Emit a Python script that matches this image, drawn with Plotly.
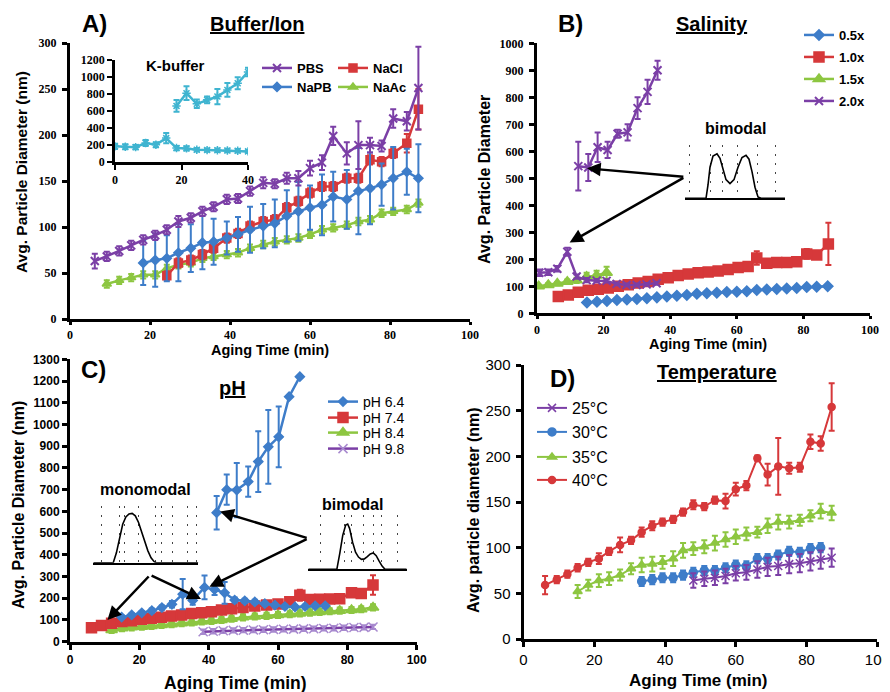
import plotly.graph_objects as go

W, H = 890, 692
OX, OY = 8, 8   # page body offset of the plot inside the browser window

# ---------------- Panel A: Buffer/Ion ----------------
tA = [6.2, 9.2, 12.3, 15.3, 18.3, 21.3, 24.2, 27.1, 30.2, 33.1, 35.9, 39.2, 42.0, 45.0,
      48.3, 51.2, 54.2, 57.1, 60.0, 63.0, 65.8, 69.2, 72.1, 75.0, 77.9, 80.8, 84.2, 87.1]
pbs = [63, 68, 74, 80, 86, 91, 97, 106, 110, 117, 122, 130, 131, 139, 148, 147, 153, 153,
       164, 170, 199, 180, 189, 189, 188, 218, 215, 251]
pbs_err = [8, 5, 5, 5, 5, 5, 5, 6, 5, 5, 5, 5, 5, 5, 6, 5, 6, 8, 8, 8, 10, 12, 26, 8, 6, 10, 10, 45]
t_nacl = tA[6:]
nacl = [47, 61, 64, 70, 77, 88, 93, 101, 106, 108, 121, 128, 137, 144, 144, 153, 153, 173,
        171, 180, 191, 228]
nacl_err = [5] * 20 + [10, 22]
t_napb = tA[4:]
napb = [61, 64, 66, 72, 77, 83, 84, 88, 92, 97, 101, 104, 112, 117, 121, 124, 133, 130, 139,
        142, 146, 153, 160, 153]
napb_err = [24, 29, 25, 31, 26, 29, 25, 18, 19, 25, 24, 26, 28, 32, 24, 33, 27, 32, 47, 39,
            23, 34, 25, 37]
t_naac = tA[1:]
naac = [38, 42, 45, 48, 48, 55, 59, 61, 66, 68, 70, 72, 77, 81, 84, 86, 88, 92, 97, 99, 102,
        106, 108, 115, 117, 119, 126]
naac_err = [4] * 27

# inset: K-buffer
tK_low = [0, 3.1, 6.2, 9.2, 12.3, 15.4, 18.5, 21.5, 24.6, 27.7, 30.8, 33.8, 36.9, 40.0]
k_low = [184, 180, 175, 223, 203, 281, 164, 160, 145, 140, 138, 135, 132, 125]
k_low_err = [30, 30, 25, 35, 30, 60, 25, 25, 20, 20, 20, 20, 20, 20]
tK_high = [18.5, 21.5, 24.6, 27.7, 30.8, 33.8, 36.9, 40.0]
k_high = [660, 810, 684, 731, 770, 848, 926, 1060]
k_high_err = [70, 80, 50, 40, 90, 80, 70, 50]

# ---------------- Panel B: Salinity ----------------
t05 = [15, 18, 21, 24, 27, 30, 33, 36, 39, 42, 45, 48, 51, 54, 57, 60, 63, 66, 69, 72, 75,
       78, 81, 84, 87.3]
s05 = [40, 43, 46, 49, 51, 53, 56, 59, 62, 65, 68, 72, 74, 76, 79, 80, 82, 86, 88, 90, 92,
       94, 97, 98, 100]
s05_err = [3] * 25
t10 = [6.4, 9.4, 12.4, 15.4, 18.4, 21.4, 24.4, 27.4, 30.4, 33.4, 36.4, 39.4, 42.4, 45.4,
       48.4, 51.4, 54.4, 57.4, 60.4, 63.4, 66.0, 69.0, 72.0, 75.0, 78.0, 81.0, 84.0, 87.5]
s10 = [62, 68, 78, 85, 89, 94, 100, 106, 112, 118, 126, 132, 140, 146, 150, 153, 157, 162,
       170, 173, 205, 185, 188, 188, 191, 220, 216, 257]
s10_err = [5] * 20 + [25, 6, 5, 5, 5, 18, 8, 78]
t15 = [0.5, 3.4, 6.1, 9.1, 11.9, 14.9, 17.9, 20.9]
s15 = [100, 105, 110, 117, 122, 135, 140, 150]
s15_err = [6, 6, 6, 8, 10, 15, 18, 22]
t20_low = [0.7, 3.4, 6.1, 9.1, 11.9, 14.9, 17.9, 20.9, 23.9, 26.9, 29.9, 32.9, 35.9]
s20_low = [150, 152, 165, 228, 136, 123, 121, 120, 109, 105, 105, 107, 111]
s20_low_err = [12, 10, 10, 15, 8, 8, 6, 6, 5, 5, 5, 5, 5]
t20_high = [12.4, 15.4, 18.2, 21.2, 24.2, 27.2, 30.2, 33.2, 36.2]
s20_high = [545, 540, 615, 605, 665, 670, 760, 820, 900]
s20_high_err = [90, 50, 55, 30, 15, 30, 40, 45, 35]

# ---------------- Panel C: pH ----------------
t74 = [6.2, 9.1, 12.0, 15.0, 17.8, 20.7, 23.5, 26.4, 29.3, 32.2, 35.1, 38.0, 40.8, 43.7,
       46.6, 49.9, 53.3, 56.7, 60.0, 63.4, 66.3, 69.2, 72.0, 74.9, 77.8, 81.2, 84.0, 87.4]
p74 = [64, 74, 85, 93, 97, 103, 108, 112, 118, 123, 130, 133, 138, 146, 152, 158, 164, 169,
       173, 184, 214, 194, 195, 196, 198, 225, 222, 261]
p74_err = [14] * 20 + [25] + [14] * 6 + [45]
t84 = t74[2:]
p84 = [54, 62, 66, 69, 72, 77, 80, 85, 88, 93, 96, 100, 106, 112, 116, 119, 123, 126, 130,
       134, 137, 140, 143, 146, 149, 158]
p84_err = [14] * 26
t98 = [38.4, 41.3, 44.2, 47.1, 50.0, 52.9, 55.8, 58.7, 61.6, 64.5, 67.4, 70.3, 73.2, 76.1,
       79.0, 81.9, 84.8, 87.4]
p98 = [46, 48, 50, 52, 53, 54, 55, 56, 57, 58, 59, 60, 61, 62, 64, 65, 66, 68]
p98_err = [10] * 18
t64_low = [14.9, 17.8, 20.7, 23.6, 26.5, 29.4, 32.5, 35.4, 38.8, 41.7, 44.6, 47.5, 50.4,
           53.3, 56.2, 59.1, 62.0, 64.9, 67.8, 70.7, 73.6]
p64_low = [113, 123, 133, 143, 157, 172, 219, 190, 250, 240, 225, 192, 188, 183, 175, 168,
           162, 160, 162, 165, 165]
p64_low_err = [8, 8, 8, 10, 10, 15, 70, 20, 55, 25, 50, 12, 10, 10, 8, 8, 8, 8, 8, 8, 8]
t64_high = [42.3, 45.2, 48.1, 51.4, 54.3, 57.2, 60.2, 63.2, 66.3]
p64_high = [594, 700, 698, 737, 829, 897, 943, 1128, 1220]
p64_high_err = [77, 70, 125, 70, 140, 170, 140, 0, 0]

# ---------------- Panel D: Temperature ----------------
t40 = [6.1, 9.4, 12.4, 15.3, 18.3, 21.3, 24.2, 27.3, 30.4, 33.4, 36.4, 39.3, 42.3, 45.1,
       48.0, 51.1, 54.1, 57.1, 60.0, 63.0, 66.1, 69.0, 72.0, 75.1, 78.1, 81.1, 84.0, 87.1]
d40 = [59, 65, 71, 78, 84, 88, 96, 103, 108, 117, 124, 128, 131, 139, 147, 145, 152, 151,
       164, 168, 198, 180, 189, 187, 188, 216, 214, 254]
d40_err = [10, 4, 4, 4, 4, 6, 4, 8, 4, 5, 5, 4, 4, 4, 5, 4, 4, 8, 7, 5, 3, 12, 31, 6, 5, 8, 8, 26]
t35 = t40[3:]
d35 = [52, 59, 64, 66, 70, 77, 81, 82, 84, 88, 97, 99, 101, 105, 109, 112, 115, 117, 124,
       128, 128, 130, 135, 140, 138]
d35_err = [7, 6, 7, 7, 6, 6, 8, 8, 7, 8, 8, 7, 7, 8, 8, 8, 7, 6, 8, 8, 7, 6, 6, 8, 8]
t30 = t40[9:27]
d30 = [63, 65, 67, 67, 70, 73, 75, 75, 78, 81, 80, 88, 88, 92, 96, 95, 99, 100]
d30_err = [5] * 18
t25 = t40[14:]
d25 = [64, 66, 67, 69, 72, 73, 76, 79, 80, 82, 83, 85, 87, 89]
d25_err = [8, 8, 8, 8, 8, 8, 9, 10, 10, 10, 10, 10, 10, 10]

# ---------------- size-distribution sketches ----------------
skB_x = [0, 21, 23, 25, 28, 32, 35, 38, 41, 45, 49, 53, 57, 61, 64, 67, 70, 73, 76, 100]
skB_y = [0, 0, 0.3, 0.7, 0.95, 1.0, 0.9, 0.65, 0.42, 0.33, 0.42, 0.7, 0.92, 0.97, 0.88, 0.6,
         0.25, 0.03, 0, 0]
skM_x = [0, 19, 22, 25, 28, 31, 34, 37, 40, 43, 46, 49, 52, 55, 58, 60, 100]
skM_y = [0, 0, 0.2, 0.5, 0.78, 0.93, 0.99, 1.0, 0.95, 0.82, 0.62, 0.42, 0.24, 0.1, 0.02, 0, 0]
skC_x = [0, 29, 32, 35, 38, 40, 42, 45, 48, 51, 54, 57, 60, 63, 66, 69, 72, 75, 78, 100]
skC_y = [0, 0, 0.35, 0.75, 0.98, 1.0, 0.9, 0.6, 0.38, 0.27, 0.22, 0.23, 0.28, 0.34, 0.36,
         0.3, 0.18, 0.07, 0, 0]

BLUE, RED, GREEN, PURPLE, CYAN = "#3E7DC9", "#D6383A", "#8DC641", "#7B3FA6", "#3FB4D0"
LAVENDER = "#A88ACF"
SANS, SERIF = "Liberation Sans", "Liberation Serif"


def fx(px):
    return (px - OX) / W


def fy(py):
    return 1 - (py - OY) / H


def px_x(a, b):
    return [fx(a), fx(b)]


def px_y(top, bottom):
    return [fy(bottom), fy(top)]


fig = go.Figure()
lay = {}
legend_count = [0]


def new_legend(text_left, row_y, size, bold):
    legend_count[0] += 1
    n = legend_count[0]
    lid = "legend" if n == 1 else "legend%d" % n
    f = dict(family=SANS, size=size, color="black")
    if bold:
        f["weight"] = "bold"
    lay[lid] = dict(x=fx(text_left - 40), y=fy(row_y), xanchor="left", yanchor="middle",
                    font=f, bgcolor="rgba(0,0,0,0)", borderwidth=0, itemwidth=30)
    return lid


def add(x, y, err, color, symbol, size, xa, ya, name=None, leg=None, lw=2.5, group=None,
        mlw=1.5, mcolor=None):
    show = leg is not None
    mc = mcolor or color
    fig.add_trace(go.Scatter(
        x=x, y=y, mode="lines+markers", name=name, showlegend=show,
        legend=leg if show else "legend", legendgroup=group,
        line=dict(color=color, width=lw),
        marker=dict(symbol=symbol, size=size, color=mc, line=dict(color=mc, width=mlw)),
        error_y=dict(type="data", array=err, color=mc, thickness=2, width=3, visible=True),
        xaxis=xa, yaxis=ya))


# A
add(t_naac, naac, naac_err, GREEN, "triangle-up", 8, "x", "y", "NaAc",
    new_legend(373, 87, 13, True))
add(t_nacl, nacl, nacl_err, RED, "square", 8, "x", "y", "NaCl",
    new_legend(373, 68, 13, True))
add(t_napb, napb, napb_err, BLUE, "diamond", 7, "x", "y", "NaPB",
    new_legend(297, 87, 13, True))
add(tA, pbs, pbs_err, PURPLE, "x-thin", 8, "x", "y", "PBS",
    new_legend(297, 68, 13, True), mlw=2)
# A inset
add(tK_low, k_low, k_low_err, CYAN, "asterisk", 7, "x2", "y2")
add(tK_high, k_high, k_high_err, CYAN, "asterisk", 7, "x2", "y2")

# B
add(t15, s15, s15_err, GREEN, "triangle-up", 10, "x3", "y3", "1.5x",
    new_legend(839, 79, 13, True))
add(t10, s10, s10_err, RED, "square", 10, "x3", "y3", "1.0x",
    new_legend(839, 57, 13, True))
add(t05, s05, s05_err, BLUE, "diamond", 8, "x3", "y3", "0.5x",
    new_legend(839, 35, 13, True))
add(t20_low, s20_low, s20_low_err, PURPLE, "x-thin", 8, "x3", "y3", "2.0x",
    new_legend(839, 101, 13, True), group="b4", mlw=2)
add(t20_high, s20_high, s20_high_err, PURPLE, "x-thin", 8, "x3", "y3", "2.0x", None,
    group="b4", mlw=2)

# C
add(t98, p98, p98_err, PURPLE, "x-thin", 9, "x4", "y4", "pH 9.8",
    new_legend(363, 449, 14, False), mlw=1.5, mcolor=LAVENDER)
add(t84, p84, p84_err, GREEN, "triangle-up", 10, "x4", "y4", "pH 8.4",
    new_legend(363, 433, 14, False))
add(t74, p74, p74_err, RED, "square", 10, "x4", "y4", "pH 7.4",
    new_legend(363, 418, 14, False))
add(t64_low, p64_low, p64_low_err, BLUE, "diamond", 7, "x4", "y4", "pH 6.4",
    new_legend(363, 402, 14, False), group="c1")
add(t64_high, p64_high, p64_high_err, BLUE, "diamond", 7, "x4", "y4", "pH 6.4", None,
    group="c1")

# D
add(t35, d35, d35_err, GREEN, "triangle-up", 8, "x5", "y5", "35°C",
    new_legend(572, 457, 16, False), lw=2)
add(t30, d30, d30_err, BLUE, "circle", 8, "x5", "y5", "30°C",
    new_legend(572, 432, 16, False), lw=2)
add(t25, d25, d25_err, PURPLE, "x-thin", 8, "x5", "y5", "25°C",
    new_legend(572, 408, 16, False), lw=2, mlw=1.5)
add(t40, d40, d40_err, RED, "circle", 7, "x5", "y5", "40°C",
    new_legend(572, 480, 16, False), lw=2)

# sketches
for sx, sy, xa, ya in [(skB_x, skB_y, "x6", "y6"), (skM_x, skM_y, "x7", "y7"),
                       (skC_x, skC_y, "x8", "y8")]:
    fig.add_trace(go.Scatter(x=sx, y=sy, mode="lines", line=dict(color="black", width=1.6),
                             xaxis=xa, yaxis=ya, showlegend=False, hoverinfo="skip"))


def main_axis(domain, rng, dtick, font, anchor, lw=3, tw=2.5, standoff=None, tl=5):
    d = dict(domain=domain, range=rng, dtick=dtick, tick0=0, showline=True, linecolor="black",
             linewidth=lw, ticks="outside", tickwidth=tw, ticklen=tl, tickcolor="black",
             showgrid=False, zeroline=False, tickfont=font, anchor=anchor, fixedrange=True,
             automargin=False)
    if standoff is not None:
        d["ticklabelstandoff"] = standoff
    return d


def cross_axis(domain, rng, dtick, anchor, overlay, tw=2.5):
    return dict(domain=domain, range=rng, dtick=dtick, tick0=0, showline=False,
                ticks="inside", tickwidth=tw, ticklen=5, tickcolor="black",
                showticklabels=False, showgrid=False, zeroline=False, anchor=anchor,
                overlaying=overlay, fixedrange=True, automargin=False)


fA = dict(family=SERIF, size=12, color="black", weight="bold")
fC = dict(family=SANS, size=12, color="black", weight="bold")
fD = dict(family=SANS, size=15, color="black")

dom = {
    "A": (px_x(70, 470), px_y(43, 319)),
    "Ai": (px_x(115, 248), px_y(60, 162)),
    "B": (px_x(537, 870), px_y(43.3, 313.3)),
    "C": (px_x(70, 416.7), px_y(359.3, 641.7)),
    "D": (px_x(523.5, 877.3), px_y(365, 639)),
}

lay["xaxis"] = main_axis(dom["A"][0], [0, 100], 20, fA, "y", tl=3)
lay["yaxis"] = main_axis(dom["A"][1], [0, 300], 50, fA, "x", standoff=3)
lay["xaxis2"] = main_axis(dom["Ai"][0], [0, 40], 20, fA, "y2", lw=2.5, tw=2)
lay["yaxis2"] = main_axis(dom["Ai"][1], [0, 1200], 200, fA, "x2", lw=2.5, tw=2)
lay["xaxis3"] = main_axis(dom["B"][0], [0, 100], 20, fA, "y3", tl=3)
lay["yaxis3"] = main_axis(dom["B"][1], [0, 1000], 100, fA, "x3", standoff=3)
lay["xaxis4"] = main_axis(dom["C"][0], [0, 100], 20, fC, "y4")
lay["yaxis4"] = main_axis(dom["C"][1], [0, 1300], 100, fC, "x4")
lay["xaxis5"] = main_axis(dom["D"][0], [0, 100], 20, fD, "y5")
lay["yaxis5"] = main_axis(dom["D"][1], [0, 300], 50, fD, "x5", standoff=2)

# inner halves of the crossing tick marks
cross = [("A", "x", "y", 20, 50, [0, 100], [0, 300], 9),
         ("Ai", "x2", "y2", 20, 200, [0, 40], [0, 1200], 10),
         ("B", "x3", "y3", 20, 100, [0, 100], [0, 1000], 11),
         ("C", "x4", "y4", 20, 100, [0, 100], [0, 1300], 12),
         ("D", "x5", "y5", 20, 50, [0, 100], [0, 300], 13)]
for key, xa, ya, dx, dy, rx, ry, n in cross:
    lay["xaxis%d" % n] = cross_axis(dom[key][0], rx, dx, ya, xa)
    lay["yaxis%d" % n] = cross_axis(dom[key][1], ry, dy, xa, ya)


def sketch_axes(xd, yd, grid, xname, yname, ymax):
    xax = dict(domain=xd, range=[0, 100], showline=True, linecolor="black", linewidth=1.5,
               ticks="", showticklabels=False, zeroline=False, anchor=yname, fixedrange=True,
               tickvals=grid, showgrid=True, gridcolor="#444", gridwidth=1,
               griddash="2px,7px", automargin=False)
    yax = dict(domain=yd, range=[0, ymax], showline=False, ticks="", showticklabels=False,
               showgrid=False, zeroline=False, anchor=xname, fixedrange=True, automargin=False)
    return xax, yax


gridB = [4, 25, 37, 52, 72, 90]
gridM = [8, 25, 30, 43, 59, 65, 75, 90, 98]
gridC = [12, 37, 44, 56, 66, 74, 91]
lay["xaxis6"], lay["yaxis6"] = sketch_axes(px_x(685, 785), px_y(145, 198.3), gridB, "x6", "y6", 1.2)
lay["xaxis7"], lay["yaxis7"] = sketch_axes(px_x(93.3, 198.3), px_y(506, 562.7), gridM, "x7", "y7", 1.15)
lay["xaxis8"], lay["yaxis8"] = sketch_axes(px_x(308.3, 406.7), px_y(515, 569.3), gridC, "x8", "y8", 1.2)

ann = []


def text(x, y, s, size, bold=True, angle=0, family=SANS):
    f = dict(family=family, size=size, color="black")
    if bold:
        f["weight"] = "bold"
    ann.append(dict(x=fx(x), y=fy(y), xref="paper", yref="paper", text=s, showarrow=False,
                    font=f, textangle=angle, xanchor="center", yanchor="middle"))


text(94, 24, "A)", 24)
text(257, 24, "<u>Buffer/Ion</u>", 20)
text(570, 24, "B)", 24)
text(712, 24, "<u>Salinity</u>", 20)
text(93, 369, "C)", 24)
text(232, 388, "<u>pH</u>", 20)
text(562, 378, "D)", 24)
text(717, 372, "<u>Temperature</u>", 20)

text(270, 350, "Aging Time (min)", 14.5)
text(22, 172, "Avg. Particle Diameter (nm)", 15.5, angle=-90)
text(708, 344, "Aging Time (min)", 14.5)
text(485, 179, "Avg. Particle Diameter", 16, angle=-90)
text(235, 683, "Aging Time (min)", 17.5)
text(18, 505, "Avg. Particle Diameter (nm)", 16, angle=-90)
text(698, 680, "Aging Time (min)", 17)
text(473, 510, "Avg. particle diameter (nm)", 16, angle=-90)

text(175, 66, "K-buffer", 15)
text(735, 128, "bimodal", 16)
text(145, 489, "monomodal", 16)
text(352, 504, "bimodal", 16)


def arrow(xa, ya, tail, head):
    ann.append(dict(x=head[0], y=head[1], ax=tail[0], ay=tail[1], xref=xa, yref=ya,
                    axref=xa, ayref=ya, showarrow=True, arrowhead=2, arrowsize=1.1,
                    arrowwidth=2.5, arrowcolor="black", text="", standoff=0))


arrow("x3", "y3", (44.4, 505), (15.0, 537))
arrow("x3", "y3", (44.4, 505), (9.8, 262))
arrow("x4", "y4", (23.1, 307), (10.8, 100))
arrow("x4", "y4", (23.1, 307), (37.8, 197))
arrow("x4", "y4", (68.7, 476), (43.3, 599))
arrow("x4", "y4", (68.7, 476), (40.2, 253))

fig.update_layout(width=W, height=H,
                  margin=dict(l=0, r=0, t=0, b=0, pad=0, autoexpand=False),
                  paper_bgcolor="white", plot_bgcolor="rgba(0,0,0,0)",
                  annotations=ann, hovermode=False, **lay)

fig.write_html("out.html")
